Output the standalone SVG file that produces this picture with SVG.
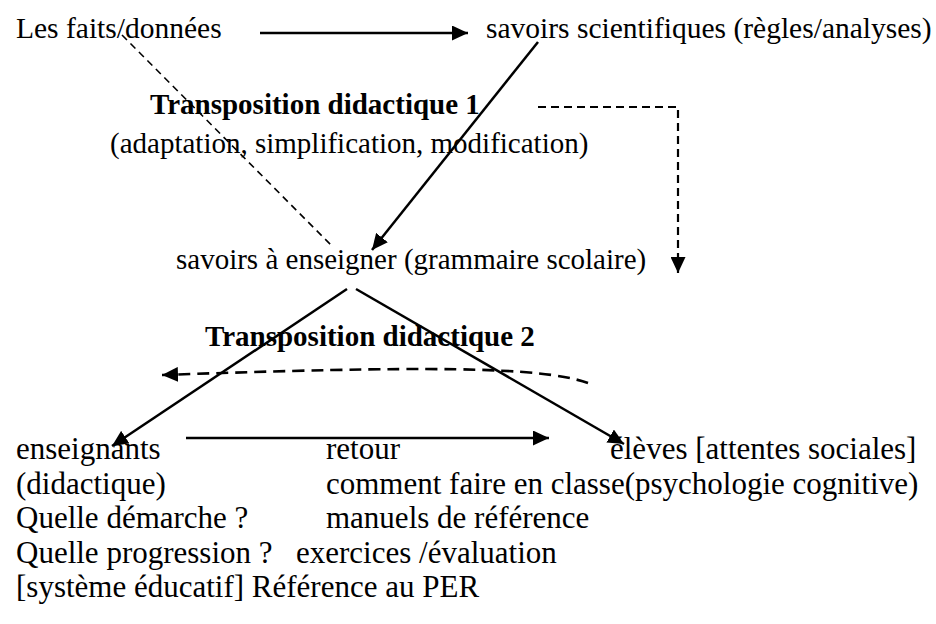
<svg xmlns="http://www.w3.org/2000/svg" width="936" height="624" viewBox="0 0 936 624">
<style>
text{font-family:"Liberation Serif","Times New Roman",serif;font-size:29px;fill:#000}
.b{font-weight:bold}
.t{font-size:29.5px}
.l{font-size:31px}
.s{stroke:#000;stroke-width:2.5;fill:none}
.d{stroke:#000;stroke-width:1.6;fill:none;stroke-dasharray:7 5}
.d2{stroke:#000;stroke-width:2.2;fill:none;stroke-dasharray:8 5}
.d3{stroke:#000;stroke-width:2.6;fill:none;stroke-dasharray:12 7}
</style>
<defs>
<marker id="ah" markerWidth="16" markerHeight="15" refX="16" refY="7.5" orient="auto" markerUnits="userSpaceOnUse"><path d="M0,0 L16,7.5 L0,15 Z" fill="#000"/></marker>
</defs>
<rect width="936" height="624" fill="#fff"/>
<g id="faits"><text class="t" x="16" y="38">Les faits/données</text></g>
<g id="savoirs-scientifiques"><text class="t" x="486" y="38">savoirs scientifiques (règles/analyses)</text></g>
<g id="td1"><text class="b" x="150" y="114">Transposition didactique 1</text>
<text x="110" y="153">(adaptation, simplification, modification)</text></g>
<g id="savoirs-enseigner"><text x="176" y="269">savoirs à enseigner (grammaire scolaire)</text></g>
<g id="td2"><text class="b" x="205" y="346">Transposition didactique 2</text></g>
<g id="enseignants"><text class="l" x="16" y="459">enseignants</text>
<text class="l" x="16" y="493.5">(didactique)</text>
<text class="l" x="16" y="528">Quelle démarche ?</text>
<text class="l" x="16" y="562.5">Quelle progression ?</text>
<text class="l" x="16" y="597">[système éducatif] Référence au PER</text></g>
<g id="retour"><text class="l" x="326" y="459">retour</text>
<text class="l" x="326" y="493.5">comment faire en classe(psychologie cognitive)</text>
<text class="l" x="326" y="528">manuels de référence</text>
<text class="l" x="296" y="562.5">exercices /évaluation</text></g>
<g id="eleves"><text class="l" x="610" y="459">élèves [attentes sociales]</text></g>
<g id="connectors">
<line class="s" x1="260" y1="33" x2="468" y2="33" marker-end="url(#ah)"/>
<line class="d" x1="122" y1="35" x2="333" y2="247"/>
<line class="s" x1="538" y1="42" x2="372" y2="250" marker-end="url(#ah)"/>
<path class="d2" d="M538,107 H678 V273" marker-end="url(#ah)"/>
<line class="s" x1="347" y1="289" x2="112" y2="446" marker-end="url(#ah)"/>
<line class="s" x1="356" y1="289" x2="624" y2="444" marker-end="url(#ah)"/>
<path class="d3" d="M588,383 C540,366 420,366 162,375" marker-end="url(#ah)"/>
<line class="s" x1="186" y1="438" x2="549" y2="438" marker-end="url(#ah)"/>
</g>
</svg>
